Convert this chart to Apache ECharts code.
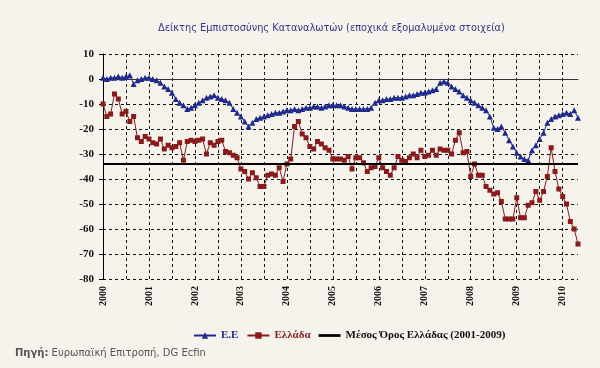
<!DOCTYPE html>
<html><head><meta charset="utf-8">
<script src="https://cdn.jsdelivr.net/npm/echarts@6/dist/echarts.min.js"></script>
<style>html,body{margin:0;padding:0;background:#f5f3ec;}#c{width:600px;height:368px;}</style>
</head><body><div id="c"></div>
<script>
const years = [2000,2001,2002,2003,2004,2005,2006,2007,2008,2009,2010];
const lastMonthOf2010 = 5;
const seriesNames = ['E.E', 'Ελλάδα', 'Μέσος Όρος Ελλάδας (2001-2009)'];
const euValues = [
  0.5,0,0.5,0.5,1,0.5,1,1.5,-2,-0.5,0,0.5,
  0.5,0,-0.5,-1.5,-3,-4,-5.5,-8,-9.5,-10.5,-12,-11.5,
  -10.5,-9.5,-8.5,-7.5,-7,-6.5,-7.5,-8,-8.5,-9.5,-12,-13.5,
  -15,-17,-19,-17.5,-16,-15.5,-15,-14.5,-14,-13.5,-13.5,-13,
  -12.5,-12.5,-12,-12.5,-12,-11.5,-11.5,-11,-11,-11.5,-11,-10.5,
  -10.5,-10.5,-10.5,-11,-11.5,-12,-12,-12,-12,-12,-11.5,-9.5,
  -8.5,-8.5,-8,-8,-7.5,-7.5,-7.5,-7,-6.5,-6.5,-6,-5.5,
  -5.5,-5,-4.5,-4,-1.5,-1,-1.5,-3,-4,-5,-6.5,-7.5,
  -8.5,-9.5,-10.5,-11.5,-12.5,-15,-19.5,-20,-19,-21.5,-24.5,-27,
  -29.5,-31,-32,-32.5,-28.5,-26.5,-24,-21.5,-17.5,-16,-15,-14.5,
  -14,-13.5,-14,-12.5,-15.5
];
const greeceValues = [
  -10,-15,-14,-6,-8,-14,-13,-17,-15,-23.5,-25,-23,
  -24,-25.5,-26,-24,-28,-26.5,-27.5,-27,-25.5,-32.5,-25,-24.5,
  -25,-24.5,-24,-30,-25.5,-26.5,-25,-24.5,-29,-29.5,-30.5,-31.5,
  -36,-37,-40,-37.5,-39.5,-43,-43,-38.5,-38,-38.5,-35.5,-41,
  -34,-32,-19,-17,-22,-23.5,-27,-28,-25,-26,-27.5,-28.5,
  -32,-32,-32,-32.5,-31,-36,-31.5,-31.5,-33.5,-37,-35.5,-35,
  -31.5,-35.5,-37,-38.5,-35.5,-31,-32.5,-33,-31.5,-30,-31.5,-28.5,
  -31,-30.5,-28.5,-30.5,-28,-28.5,-28.5,-30,-24.5,-21.5,-29.5,-29,
  -39,-34,-38.5,-38.5,-43,-44.5,-46,-45.5,-49,-56,-56,-56,
  -47.5,-55.5,-55.5,-50.5,-49.5,-45,-48.5,-45,-39,-27.5,-37,-44,
  -47,-50,-57,-60,-66
];
const greeceMean = -34;
const yTicks = {min: -80, max: 10, step: 10};

const months = [];
years.forEach(y => {
  const n = (y === 2010) ? lastMonthOf2010 : 12;
  for (let m = 1; m <= n; m++) months.push(y + '-' + (m < 10 ? '0' : '') + m);
});

const chart = echarts.init(document.getElementById('c'));
chart.setOption({
  backgroundColor: '#f5f3ec',
  animation: false,
  title: {
    text: 'Δείκτης Εμπιστοσύνης Καταναλωτών (εποχικά εξομαλυμένα στοιχεία)',
    left: 153, top: 18,
    textStyle: {fontFamily: 'DejaVu Sans', fontSize: 9.8, fontWeight: 'normal', color: '#35358a'}
  },
  grid: {left: 103, right: 22, top: 54, bottom: 89, containLabel: false},
  legend: {
    top: 325, left: 188,
    itemWidth: 22, itemHeight: 8, itemGap: 8,
    textStyle: {fontFamily: 'Liberation Serif', fontSize: 11, fontWeight: 'bold'},
    data: [
      {name: seriesNames[0], textStyle: {color: '#1f2a8c'}},
      {name: seriesNames[1], textStyle: {color: '#8b1a1a'}},
      {name: seriesNames[2], textStyle: {color: '#111'}, icon: 'path://M0,0 L24,0 L24,3 L0,3 Z'}
    ]
  },
  xAxis: [{
    type: 'category', data: months, boundaryGap: false, position: 'bottom',
    axisLine: {show: false, onZero: false},
    axisTick: {show: false},
    axisLabel: {
      interval: (i) => i % 12 === 0,
      formatter: (v) => v.slice(0, 4),
      rotate: 90, margin: 7,
      fontFamily: 'Liberation Serif', fontWeight: 'bold', fontSize: 10, color: '#111'
    },
    splitLine: {show: true, interval: (i) => i % 6 === 0 && i > 0,
      lineStyle: {color: '#111', type: [3, 3], width: 1}}
  }, {
    type: 'category', data: months, boundaryGap: false, position: 'top',
    axisLine: {show: true, onZero: true, lineStyle: {color: '#333', width: 1}},
    axisTick: {show: false}, axisLabel: {show: false}, splitLine: {show: false}
  }],
  yAxis: {
    type: 'value', min: yTicks.min, max: yTicks.max, interval: yTicks.step,
    axisLine: {show: true, lineStyle: {color: '#000', width: 1}},
    axisTick: {show: true, inside: false, length: 4, lineStyle: {color: '#000'}},
    axisLabel: {margin: 9, fontFamily: 'Liberation Serif', fontWeight: 'bold', fontSize: 11, color: '#111'},
    splitLine: {show: true, lineStyle: {color: '#111', type: [3, 3], width: 1}}
  },
  series: [{
    name: seriesNames[0], type: 'line', data: euValues, xAxisIndex: 0,
    symbol: 'triangle', symbolSize: 6, showAllSymbol: true,
    lineStyle: {color: '#1f2a8c', width: 1}, itemStyle: {color: '#1f2a8c'}
  }, {
    name: seriesNames[1], type: 'line', data: greeceValues, xAxisIndex: 0,
    symbol: 'rect', symbolSize: 5, showAllSymbol: true,
    lineStyle: {color: '#8b1a1a', width: 1}, itemStyle: {color: '#8b1a1a'}
  }, {
    name: seriesNames[2], type: 'line', data: [], xAxisIndex: 0,
    symbol: 'none', lineStyle: {color: '#000', width: 2}, itemStyle: {color: '#000'},
    markLine: {silent: true, symbol: 'none', label: {show: false},
      lineStyle: {color: '#000', width: 2, type: 'solid'},
      data: [{yAxis: greeceMean}]}
  }],
  graphic: [{
    type: 'text', left: 15, top: 348,
    style: {
      text: '{b|Πηγή:} Ευρωπαϊκή Επιτροπή, DG Ecfin',
      fontFamily: 'DejaVu Sans', fontSize: 10, fill: '#555',
      rich: {b: {fontFamily: 'DejaVu Sans', fontSize: 10, fontWeight: 'bold', fill: '#555'}}
    }
  }]
});
</script></body></html>
